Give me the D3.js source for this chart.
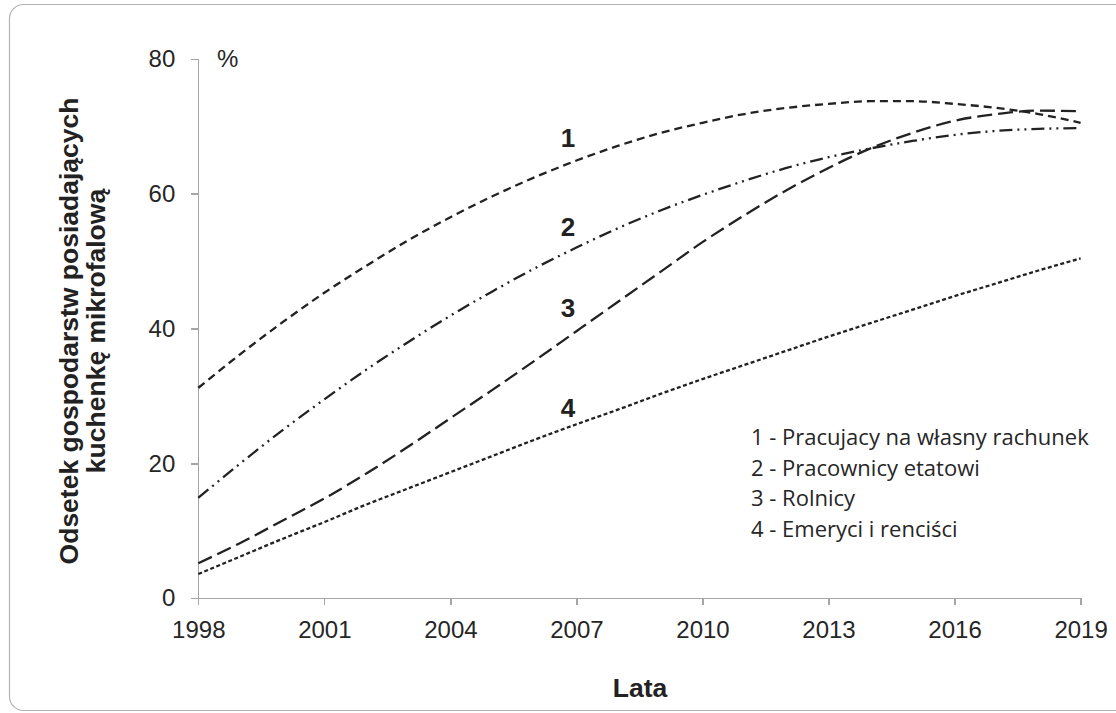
<!DOCTYPE html>
<meta charset="utf-8">
<style>
body { margin: 0; background: #fff; font-family: 'Liberation Sans', Arial, sans-serif; }
.axis path, .axis line { fill: none; stroke: #a6a6a6; stroke-width: 1.3px; shape-rendering: crispEdges; }
.axis text { fill: #262626; font-size: 24px; font-family: 'Liberation Sans', Arial, sans-serif; }
.data-line { fill: none; stroke: #222; stroke-width: 2.3px; }
.series-label { font-size: 26px; font-weight: bold; fill: #222; text-anchor: middle; }
.axis-title { font-size: 26.5px; font-weight: bold; fill: #222; text-anchor: middle; }
.legend text { font-family: 'Open Sans', sans-serif; font-size: 22px; fill: #262626; }
</style>
<body>
<svg width="1116" height="713"></svg>
<script src="https://d3js.org/d3.v7.min.js"></script>
<script>
// years on the x axis
var years = d3.range(1998, 2020);
var xTicks = [1998, 2001, 2004, 2007, 2010, 2013, 2016, 2019];
var yTicks = [0, 20, 40, 60, 80];

// values, one per year 1998..2019
var selfEmployed = [31.2, 36.2, 40.9, 45.3, 49.3, 53.1, 56.5, 59.6, 62.4, 64.9, 67.1,
  69.0, 70.5, 71.8, 72.7, 73.3, 73.7, 73.7, 73.3, 72.7, 71.8, 70.5];
var employees = [14.9, 20.0, 24.9, 29.5, 33.9, 38.0, 41.9, 45.5, 48.9, 52.0, 54.9,
  57.5, 59.8, 61.9, 63.8, 65.4, 66.7, 67.8, 68.7, 69.3, 69.6, 69.7];
var farmers = [5.2, 8.2, 11.5, 14.8, 18.5, 22.5, 26.7, 30.9, 35.2, 39.6, 44.0,
  48.4, 52.8, 56.8, 60.5, 63.8, 66.7, 69.0, 70.8, 71.8, 72.3, 72.2];
var pensioners = [3.6, 6.2, 8.8, 11.3, 13.9, 16.3, 18.7, 21.1, 23.5, 25.8, 28.0,
  30.3, 32.5, 34.6, 36.7, 38.8, 40.8, 42.8, 44.8, 46.7, 48.6, 50.4];

var legendItems = ["1 - Pracujacy na własny rachunek", "2 - Pracownicy etatowi",
  "3 - Rolnicy", "4 - Emeryci i renciści"];

var svg = d3.select("svg");

// rounded frame
svg.append("rect")
    .attr("x", 9.5).attr("y", 4.5)
    .attr("width", 1130).attr("height", 706)
    .attr("rx", 14)
    .attr("fill", "none")
    .attr("stroke", "#b4b4b4")
    .attr("stroke-width", 1.2);

var x = d3.scaleLinear().domain([1998, 2019]).range([198.3, 1080.6]);
var y = d3.scaleLinear().domain([0, 80]).range([598.3, 58.7]);

svg.append("g")
    .attr("class", "axis axis--y")
    .attr("transform", "translate(" + x(1998) + ",0)")
    .call(d3.axisLeft(y).tickValues(yTicks).tickSize(7).tickSizeOuter(0).tickPadding(16));

svg.append("g")
    .attr("class", "axis axis--x")
    .attr("transform", "translate(0," + y(0) + ")")
    .call(d3.axisBottom(x).tickValues(xTicks).tickFormat(d3.format("d"))
      .tickSize(7).tickSizeOuter(0).tickPadding(16));

svg.append("text")
    .attr("x", 217).attr("y", 67)
    .attr("fill", "#262626")
    .style("font-size", "24px")
    .text("%");

var series = [
  { values: selfEmployed, dash: "8,5", label: "1", lx: 2006.8, ly: 147 },
  { values: employees, dash: "13,5,2,5,2,5", label: "2", lx: 2006.8, ly: 236 },
  { values: farmers, dash: "15,6", label: "3", lx: 2006.8, ly: 317 },
  { values: pensioners, dash: "4,2.5", label: "4", lx: 2006.8, ly: 417 }
];

var line = d3.line()
    .curve(d3.curveMonotoneX)
    .x(function(d, i) { return x(years[i]); })
    .y(function(d) { return y(d); });

series.forEach(function(s) {
  svg.append("path")
      .datum(s.values)
      .attr("class", "data-line")
      .attr("stroke-dasharray", s.dash)
      .attr("d", line);
  svg.append("text")
      .attr("class", "series-label")
      .attr("x", x(s.lx))
      .attr("y", s.ly)
      .text(s.label);
});

// legend
var legend = svg.append("g").attr("class", "legend");
legend.selectAll("text")
    .data(legendItems)
  .enter().append("text")
    .attr("x", 751)
    .attr("y", function(d, i) { return 445 + i * 30.5; })
    .text(function(d) { return d; });

// axis titles
svg.append("text")
    .attr("class", "axis-title")
    .attr("transform", "translate(78,331) rotate(-90)")
    .text("Odsetek gospodarstw posiadających");
svg.append("text")
    .attr("class", "axis-title")
    .attr("transform", "translate(105,331) rotate(-90)")
    .text("kuchenkę mikrofalową");

svg.append("text")
    .attr("class", "axis-title")
    .attr("x", 640).attr("y", 697)
    .text("Lata");
</script>
